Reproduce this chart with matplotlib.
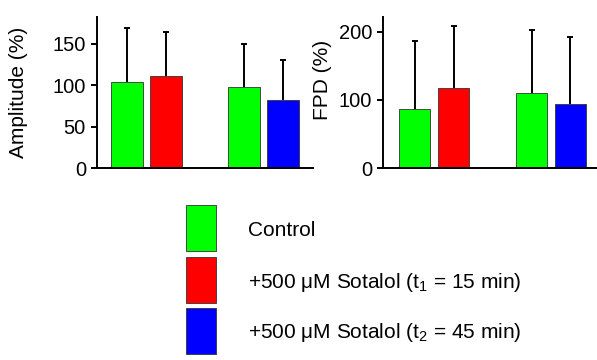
import matplotlib
matplotlib.use("Agg")
import matplotlib.pyplot as plt
from matplotlib.patches import Rectangle

plt.rcParams["font.family"] = ["Liberation Sans", "DejaVu Sans"]
plt.rcParams["mathtext.fontset"] = "custom"
plt.rcParams["mathtext.rm"] = "Liberation Sans"
plt.rcParams["mathtext.it"] = "Liberation Sans"

# bar order: control, sotalol t1, control, sotalol t2
positions = [0, 1, 3, 4]
amp_mean = [104, 111, 98, 82]
amp_sd = [65, 53, 52, 48]
fpd_mean = [87, 118, 110, 94]
fpd_sd = [99, 91, 93, 99]

bar_colors = ["#00ff00", "#ff0000", "#00ff00", "#0000ff"]
legend_labels = ["Control",
                 "+500 \u03bcM Sotalol (t$_1$ = 15 min)",
                 "+500 \u03bcM Sotalol (t$_2$ = 45 min)"]
legend_colors = ["#00ff00", "#ff0000", "#0000ff"]

W, H = 597, 360
FS = 15
fig = plt.figure(figsize=(W / 100, H / 100), dpi=100)


def bar_panel(rect, means, sds, ylim, yticks, ylabel, xlim, label_xy):
    ax = fig.add_axes(rect)
    ax.bar(positions, means, width=0.8, color=bar_colors,
           edgecolor="#333333", linewidth=0.6, zorder=2)
    _, caps, _ = ax.errorbar(positions, means, yerr=[[0] * len(sds), sds],
                             fmt="none", ecolor="black", elinewidth=1.4,
                             capsize=2.5, capthick=1.4, zorder=1)
    # only the upper cap is wanted
    caps[0].set_visible(False)
    ax.set_xlim(xlim)
    ax.set_ylim(ylim)
    ax.set_yticks(yticks)
    ax.set_xticks([])
    ax.spines["top"].set_visible(False)
    ax.spines["right"].set_visible(False)
    ax.spines["left"].set_linewidth(1.4)
    ax.spines["bottom"].set_linewidth(1.4)
    ax.tick_params(axis="y", direction="out", length=4, width=1.4,
                   labelsize=FS - 0.5, pad=4)
    ax.set_ylabel(ylabel, fontsize=FS)
    ax.yaxis.set_label_coords(*label_xy)
    return ax


bar_panel([97 / W, 1 - 168 / H, 216 / W, 151 / H], amp_mean, amp_sd,
          (0, 182), [0, 50, 100, 150], "Amplitude (%)", (-0.77, 4.77),
          (-0.32, 0.5))
bar_panel([383 / W, 1 - 168 / H, 214 / W, 151 / H], fpd_mean, fpd_sd,
          (0, 222), [0, 100, 200], "FPD (%)", (-0.81, 4.68),
          (-0.24, 0.583))

# legend drawn in pixel space below the panels
lax = fig.add_axes([0, 0, 1, 1])
lax.set_xlim(0, W)
lax.set_ylim(H, 0)
lax.axis("off")
box_top = [205, 257, 308]
for top, color, label in zip(box_top, legend_colors, legend_labels):
    lax.add_patch(Rectangle((186, top), 30, 46, facecolor=color,
                            edgecolor="#333333", linewidth=0.6))
    lax.text(248, top + 25, label, fontsize=FS, va="center", ha="left")

fig.savefig("out.png", dpi=100)
